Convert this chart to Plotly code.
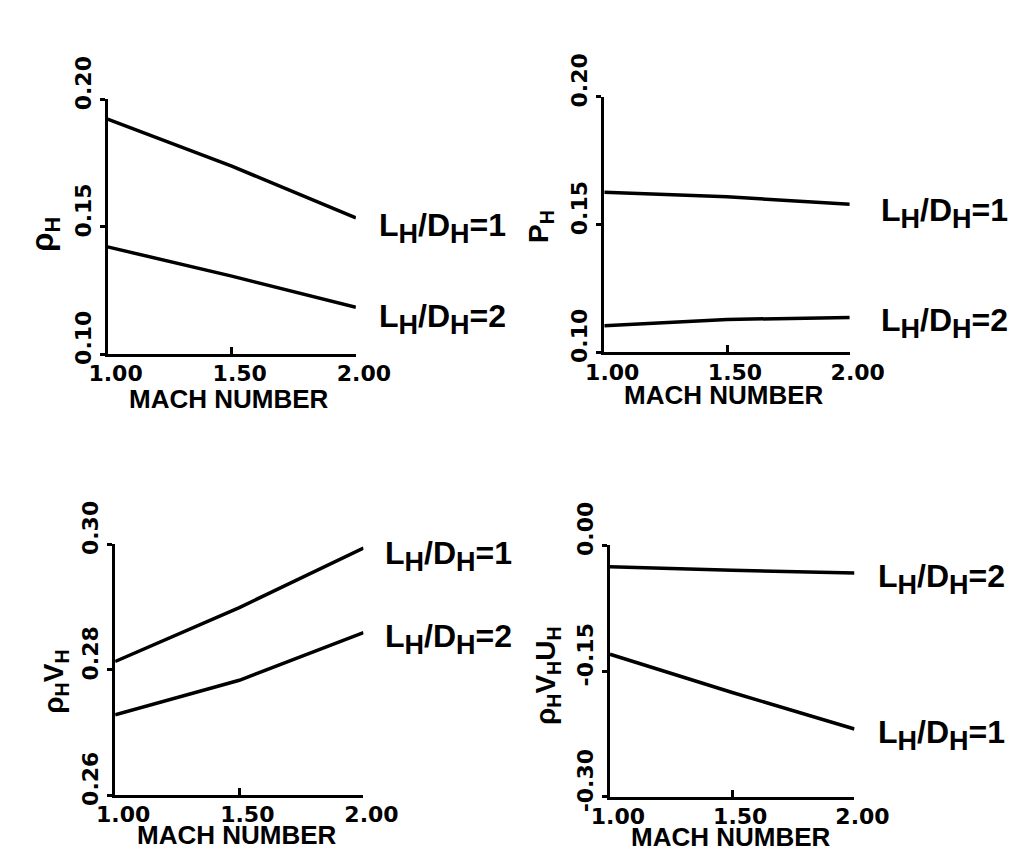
import plotly.graph_objects as go

W, H = 1036, 858

# ---- data ----
mach = [1.00, 1.50, 2.00]

# panel (a): rho_H
rho_ld1 = [0.1923, 0.1738, 0.1535]
rho_ld2 = [0.1421, 0.1306, 0.1184]
# panel (b): P_H
p_ld1 = [0.1626, 0.1608, 0.1579]
p_ld2 = [0.1103, 0.1128, 0.1136]
# panel (c): rho_H V_H
rv_ld1 = [0.2813, 0.2899, 0.2994]
rv_ld2 = [0.2728, 0.2783, 0.2859]
# panel (d): rho_H V_H U_H
rvu_ld2 = [-0.0256, -0.0300, -0.0333]
rvu_ld1 = [-0.1300, -0.1756, -0.2190]

x_tickvals = [1.0, 1.5, 2.0]
x_ticktext = ["1.00", "1.50", "2.00"]
ya_tickvals = [0.10, 0.15, 0.20]
ya_ticktext = ["0.10", "0.15", "0.20"]
yc_tickvals = [0.26, 0.28, 0.30]
yc_ticktext = ["0.26", "0.28", "0.30"]
yd_tickvals = [-0.30, -0.15, 0.00]
yd_ticktext = ["-0.30", "-0.15", "0.00"]

x_title = "MACH NUMBER"
y_titles = ["ρ<sub>H</sub>", "P<sub>H</sub>", "ρ<sub>H</sub>V<sub>H</sub>",
            "ρ<sub>H</sub>V<sub>H</sub>U<sub>H</sub>"]


def ld_label(n):
    s = "<span style='font-size:27px'>H</span>"
    return f"L<sub>{s}</sub>/D<sub>{s}</sub>={n}"


# panel layout in pixels
panels = [
    dict(px=(85, 347), py=(52, 325), yr=(0.10, 0.20), tv=ya_tickvals, tt=ya_ticktext,
         series=[(rho_ld1, "1"), (rho_ld2, "2")], ytitle=y_titles[0], ytsize=31,
         ytpos=(19, 197), xtpos=(213, 373), lshift=[(21, -10), (21, -12)]),
    dict(px=(609, 868), py=(49, 323), yr=(0.10, 0.20), tv=ya_tickvals, tt=ya_ticktext,
         series=[(p_ld1, "1"), (p_ld2, "2")], ytitle=y_titles[1], ytsize=28,
         ytpos=(542, 188), xtpos=(735, 369), lshift=[(29, -9), (29, -6)]),
    dict(px=(93, 355), py=(529, 798), yr=(0.26, 0.30), tv=yc_tickvals, tt=yc_ticktext,
         series=[(rv_ld1, "1"), (rv_ld2, "2")], ytitle=y_titles[2], ytsize=28,
         ytpos=(30, 676), xtpos=(222, 841), lshift=[(20, -8), (20, -6)]),
    dict(px=(615, 873), py=(530, 800), yr=(-0.30, 0.00), tv=yd_tickvals, tt=yd_ticktext,
         series=[(rvu_ld2, "2"), (rvu_ld1, "1")], ytitle=y_titles[3], ytsize=28,
         ytpos=(549, 670), xtpos=(743, 843), lshift=[(22, -6), (22, -6)]),
]

TICKFONT = dict(family="DejaVu Sans", size=22, color="black", weight="bold")
fig = go.Figure()
annotations = []

for i, p in enumerate(panels, start=1):
    xa = "x" if i == 1 else f"x{i}"
    ya = "y" if i == 1 else f"y{i}"
    for vals, n in p["series"]:
        fig.add_trace(go.Scatter(x=mach, y=vals, mode="lines", xaxis=xa, yaxis=ya,
                                 line=dict(color="black", width=3.5),
                                 showlegend=False, hoverinfo="skip"))
    for (vals, n), (dx, dy) in zip(p["series"], p["lshift"]):
        annotations.append(dict(
            x=mach[-1], y=vals[-1], xref=xa, yref=ya, text=ld_label(n),
            showarrow=False, xanchor="left", yanchor="middle", xshift=dx, yshift=dy,
            font=dict(family="Liberation Sans", size=32, color="black", weight="bold")))
    annotations.append(dict(
        x=p["xtpos"][0] / W, y=1 - p["xtpos"][1] / H, xref="paper", yref="paper",
        text=x_title, showarrow=False, xanchor="center", yanchor="middle",
        font=dict(family="Liberation Sans", size=26, color="black", weight="bold")))
    annotations.append(dict(
        x=p["ytpos"][0] / W, y=1 - p["ytpos"][1] / H, xref="paper", yref="paper",
        text=p["ytitle"], showarrow=False, xanchor="center", yanchor="middle",
        textangle=-90,
        font=dict(family="Liberation Sans", size=p["ytsize"], color="black",
                  weight="bold")))

    xdom = [p["px"][0] / W, p["px"][1] / W]
    ydom = [1 - p["py"][1] / H, 1 - p["py"][0] / H]
    xkey = "xaxis" if i == 1 else f"xaxis{i}"
    ykey = "yaxis" if i == 1 else f"yaxis{i}"
    fig.update_layout(**{
        xkey: dict(domain=xdom, range=[1.0, 2.0], anchor=ya, showline=True,
                   linecolor="black", linewidth=3, showgrid=False, zeroline=False,
                   ticks="inside", ticklen=7, tickwidth=3, tickcolor="black",
                   tickvals=x_tickvals, ticktext=x_ticktext, tickfont=TICKFONT,
                   ticklabelshift=8, ticklabelstandoff=-2, fixedrange=True),
        ykey: dict(domain=ydom, range=list(p["yr"]), anchor=xa, showline=True,
                   linecolor="black", linewidth=3, showgrid=False, zeroline=False,
                   ticks="outside", ticklen=5, tickwidth=3, tickcolor="black",
                   tickvals=p["tv"], ticktext=p["tt"], tickfont=TICKFONT,
                   tickangle=-90, ticklabelshift=-13, ticklabelstandoff=0,
                   fixedrange=True),
    })

fig.update_layout(width=W, height=H, margin=dict(l=0, r=0, t=0, b=0),
                  paper_bgcolor="white", plot_bgcolor="white",
                  annotations=annotations, showlegend=False)

fig.write_html("out.html")
